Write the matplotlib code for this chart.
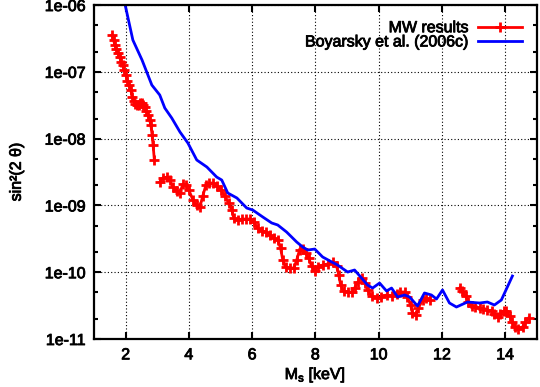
import numpy as np
import matplotlib.pyplot as plt
import matplotlib.patheffects as pe
from matplotlib.ticker import LogLocator, NullFormatter, FixedLocator, NullLocator

plt.rcParams['font.family'] = ['Liberation Sans', 'DejaVu Sans']
plt.rcParams['mathtext.fontset'] = 'custom'
plt.rcParams['mathtext.rm'] = 'Liberation Sans'
plt.rcParams['mathtext.it'] = 'Liberation Sans'

# MW results, three separate pieces (keV, log10 sin^2(2theta))
mw1_x = [1.57, 1.62, 1.66, 1.71, 1.76, 1.81, 1.86, 1.91, 1.96, 2.01, 2.06,
         2.11, 2.16, 2.21, 2.26, 2.31, 2.36, 2.41, 2.46, 2.51, 2.56, 2.61,
         2.66, 2.71, 2.76, 2.80, 2.84, 2.87, 2.91]
mw1_y = [-6.45, -6.52, -6.60, -6.66, -6.72, -6.78, -6.85, -6.90, -6.98, -7.05,
         -7.13, -7.20, -7.27, -7.37, -7.43, -7.48, -7.50, -7.49, -7.47, -7.47,
         -7.49, -7.53, -7.58, -7.65, -7.72, -7.80, -7.95, -8.10, -8.32]

mw2_x = [3.08, 3.18, 3.31, 3.40, 3.49, 3.62, 3.72, 3.81, 3.90, 4.00, 4.13,
         4.25, 4.35, 4.44, 4.54, 4.63, 4.76, 4.88, 5.01, 5.14, 5.26, 5.36,
         5.42, 5.55, 5.67, 5.80, 5.93, 6.05, 6.18, 6.30, 6.43, 6.56, 6.68,
         6.81, 6.90, 6.97, 7.06, 7.19, 7.32, 7.41, 7.50, 7.60, 7.69, 7.79,
         7.88, 7.98, 8.07, 8.23, 8.39, 8.55, 8.67, 8.74, 8.80, 8.89, 9.02,
         9.15, 9.24, 9.34, 9.46, 9.56, 9.65, 9.78, 9.94, 10.09, 10.25, 10.41,
         10.57, 10.69, 10.82, 10.91, 11.01, 11.07, 11.17, 11.26, 11.39, 11.51,
         11.61]
mw2_y = [-8.650, -8.590, -8.575, -8.620, -8.725, -8.784, -8.814, -8.680,
         -8.695, -8.770, -8.919, -8.994, -9.024, -8.859, -8.695, -8.665,
         -8.665, -8.710, -8.770, -8.859, -8.964, -9.069, -9.189, -9.219,
         -9.204, -9.204, -9.204, -9.249, -9.338, -9.383, -9.398, -9.443,
         -9.488, -9.518, -9.638, -9.817, -9.922, -9.937, -9.937, -9.817,
         -9.668, -9.653, -9.713, -9.787, -9.907, -9.982, -9.922, -9.892,
         -9.877, -9.847, -9.907, -10.042, -10.192, -10.281, -10.296, -10.296,
         -10.237, -10.147, -10.087, -10.162, -10.266, -10.356, -10.386,
         -10.371, -10.341, -10.356, -10.326, -10.296, -10.296, -10.371,
         -10.491, -10.611, -10.641, -10.536, -10.416, -10.386, -10.416]

mw3_x = [12.56, 12.65, 12.75, 12.84, 12.94, 13.06, 13.19, 13.31, 13.44, 13.57,
         13.66, 13.76, 13.85, 13.95, 14.04, 14.14, 14.23, 14.32, 14.42, 14.55,
         14.64, 14.74]
mw3_y = [-10.237, -10.281, -10.356, -10.446, -10.506, -10.521, -10.536,
         -10.551, -10.566, -10.581, -10.626, -10.671, -10.626, -10.581,
         -10.581, -10.656, -10.746, -10.820, -10.850, -10.820, -10.746,
         -10.686]

# Boyarsky et al. (2006c)
boy_x = [1.95, 2.23, 2.52, 2.83, 3.08, 3.24, 3.46, 3.72, 3.97, 4.25, 4.57,
         4.88, 5.04, 5.23, 5.52, 5.83, 6.02, 6.34, 6.62, 6.81, 7.09, 7.41,
         7.60, 7.76, 7.98, 8.23, 8.52, 8.70, 9.02, 9.24, 9.46, 9.65, 9.81,
         10.03, 10.25, 10.41, 10.60, 10.82, 10.98, 11.23, 11.45, 11.67, 11.83,
         12.02, 12.24, 12.46, 12.81, 13.19, 13.44, 13.66, 13.88, 14.07, 14.23]
boy_y = [-5.92, -6.524, -6.823, -7.198, -7.347, -7.542, -7.692, -7.901, -8.066,
         -8.320, -8.425, -8.575, -8.620, -8.814, -8.889, -9.039, -9.069,
         -9.174, -9.263, -9.293, -9.398, -9.548, -9.623, -9.668, -9.653,
         -9.772, -9.847, -9.892, -9.997, -9.967, -10.087, -10.192, -10.237,
         -10.162, -10.281, -10.237, -10.371, -10.341, -10.371, -10.506,
         -10.311, -10.341, -10.401, -10.266, -10.461, -10.521, -10.446,
         -10.461, -10.446, -10.491, -10.416, -10.222, -10.057]

fig, ax = plt.subplots(figsize=(5.4, 3.87), dpi=100)
fig.subplots_adjust(left=0.174, right=0.994, bottom=0.124, top=0.987)

red_kw = dict(color='#ff0000', lw=2, marker='+', ms=7.5, mew=2)
ax.plot(mw1_x, 10 ** np.array(mw1_y), label='MW results', **red_kw)
ax.plot(mw2_x, 10 ** np.array(mw2_y), **red_kw)
ax.plot(mw3_x, 10 ** np.array(mw3_y), **red_kw)
ax.plot(boy_x, 10 ** np.array(boy_y), color='#0000ff', lw=2,
        label='Boyarsky et al. (2006c)')

ax.set_yscale('log')
ax.set_xlim(1, 15)
ax.set_ylim(1e-11, 1e-6)
ax.xaxis.set_major_locator(FixedLocator([2, 4, 6, 8, 10, 12, 14]))
ax.xaxis.set_minor_locator(NullLocator())
ax.yaxis.set_major_locator(LogLocator(base=10, numticks=10))
ax.yaxis.set_minor_locator(LogLocator(base=10, subs=[2, 5], numticks=10))
ax.yaxis.set_minor_formatter(NullFormatter())
ax.yaxis.set_major_formatter(lambda v, p: '1e-%02d' % round(-np.log10(v)))

ax.grid(True, which='major', color='black', ls=(0, (1, 2)), lw=0.8)
ax.tick_params(which='both', direction='in', top=True, right=True,
               labelsize=11.5, width=1.5, colors='black')
ax.tick_params(which='major', length=5, pad=6)
ax.tick_params(which='minor', length=3)
for s in ax.spines.values():
    s.set_linewidth(1.6)

ax.set_xlabel(r'M$_\mathrm{s}$ [keV]', fontsize=11.5, labelpad=2)
ax.set_ylabel('sin²(2 θ)', fontsize=11.5, labelpad=15)

leg = ax.legend(loc='upper right', frameon=False, markerfirst=False,
                fontsize=11.5, handlelength=2.7, handletextpad=0.6,
                labelspacing=-0.05, borderaxespad=0.75, borderpad=0.2)

# heavier glyphs, like the original bitmap fonts
heavy = [pe.withStroke(linewidth=0.6, foreground='black')]
for t in (ax.get_xticklabels() + ax.get_yticklabels() + leg.get_texts()
          + [ax.xaxis.label, ax.yaxis.label]):
    t.set_path_effects(heavy)

fig.savefig('out.png', dpi=100)
